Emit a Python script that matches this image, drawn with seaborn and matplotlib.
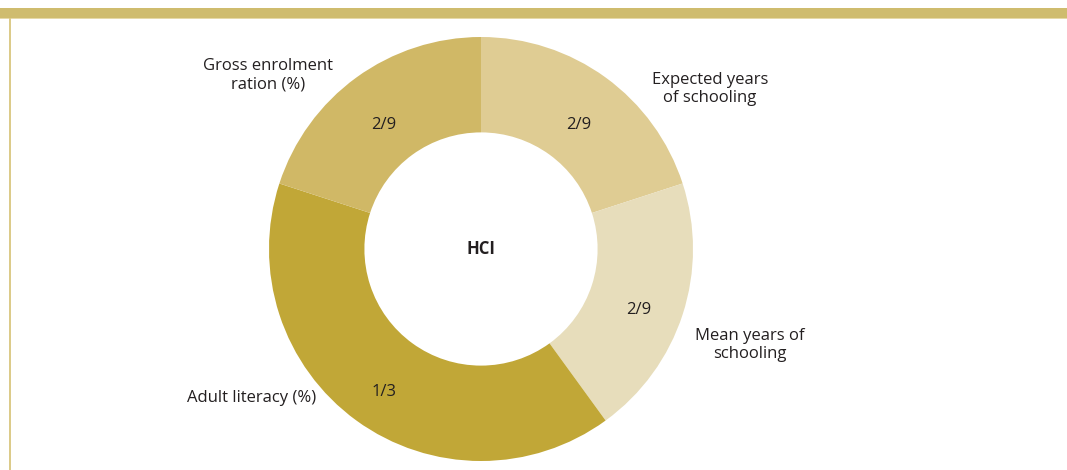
import matplotlib
matplotlib.use("Agg")
import matplotlib.pyplot as plt
import seaborn as sns
from matplotlib.patches import Rectangle

sns.set_theme(style="white")
plt.rcParams['font.family'] = ['Open Sans', 'DejaVu Sans']

categories = ["Expected years\nof schooling", "Mean years of\nschooling", "Adult literacy (%)", "Gross enrolment\nration (%)"]
# drawn slice sizes as they appear in the picture (72°, 72°, 144°, 72°)
slice_sizes = [1, 1, 2, 1]
weight_labels = ["2/9", "2/9", "1/3", "2/9"]
colors = sns.color_palette(["#DFCC93", "#E7DDBB", "#C1A737", "#D0B866"])
center_label = "HCI"

W, H = 1067, 470
fig = plt.figure(figsize=(W / 100, H / 100), dpi=100)
fig.patch.set_facecolor("white")

# decorative frame: top bar and left rule
fig.add_artist(Rectangle((0, 1 - 18 / H), 1, 10 / H, transform=fig.transFigure,
                         color="#CFBC6E", lw=0))
fig.add_artist(Rectangle((0, 1 - 19 / H), 1, 1.5 / H, transform=fig.transFigure,
                         color="#E6D9A8", lw=0))
fig.add_artist(Rectangle((9 / W, 0), 2 / W, 1 - 18 / H, transform=fig.transFigure,
                         color="#DCCB8A", lw=0))

cx, cy, r = 481, 249, 212
ax = fig.add_axes([(cx - r) / W, (H - cy - r) / H, 2 * r / W, 2 * r / H])
wedges, texts, autotexts = ax.pie(
    slice_sizes, colors=colors, startangle=90, counterclock=False,
    radius=1, wedgeprops=dict(width=0.45, linewidth=0),
    autopct=lambda p: "", pctdistance=0.78,
)
for t, lab in zip(autotexts, weight_labels):
    x, y = t.get_position()
    t.set_position((x, y - 0.045))
    t.set_text(lab)
    t.set_fontsize(12)
    t.set_color("#231F20")
ax.text(0, 0, center_label, ha="center", va="center", fontsize=12,
        fontweight="bold", color="#231F20")
ax.set_xlim(-1, 1)
ax.set_ylim(-1, 1)
ax.set_aspect("equal")
ax.axis("off")

label_pos = [(710, 89), (750, 345), (252, 398), (268, 75)]
for lab, (x, y) in zip(categories, label_pos):
    fig.text(x / W, 1 - y / H, lab, ha="center", va="center", fontsize=12,
             color="#231F20", linespacing=1.2)

fig.savefig("out.png", dpi=100, facecolor="white")
